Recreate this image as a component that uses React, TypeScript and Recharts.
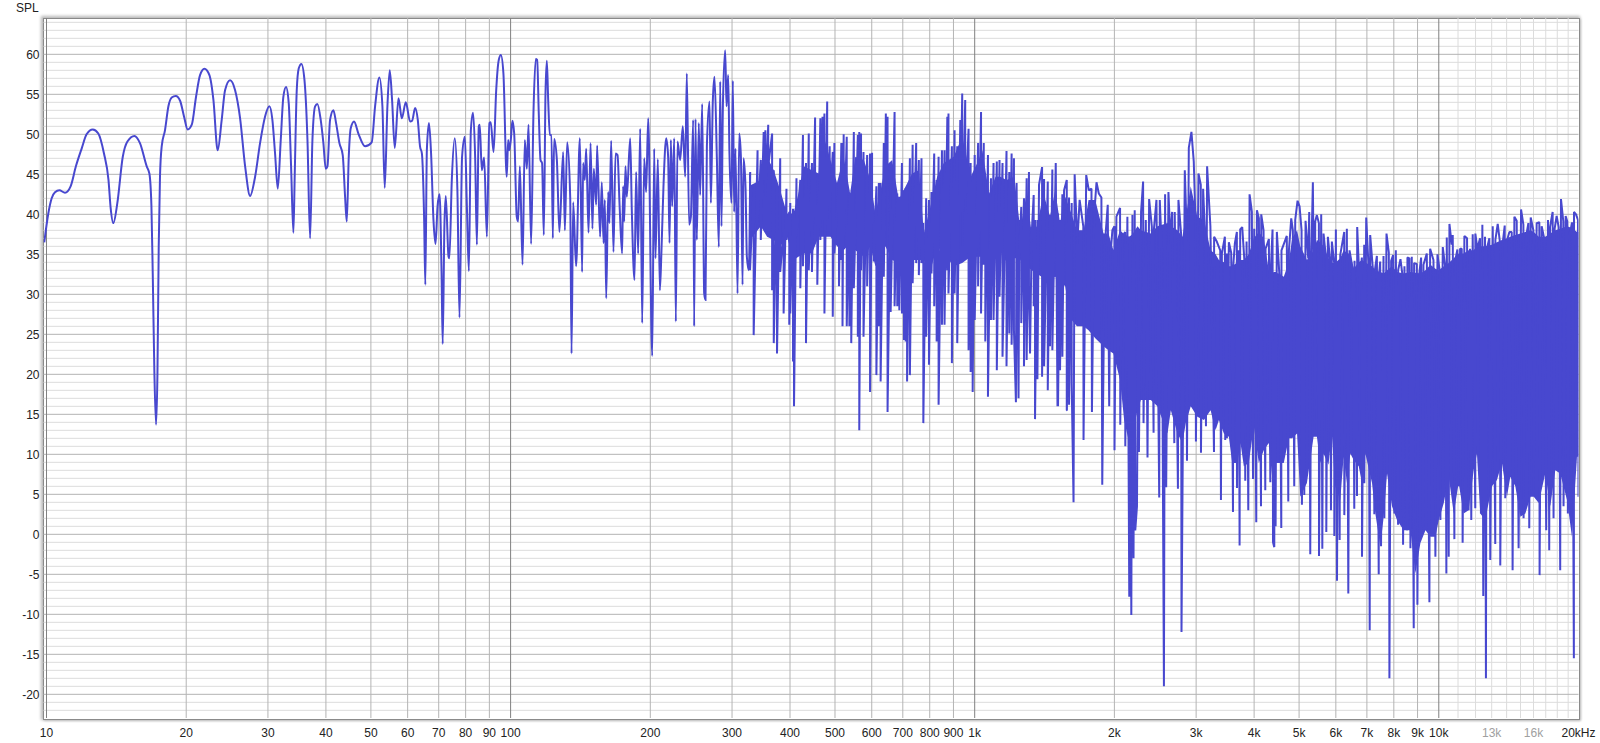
import { Area, CartesianGrid, ComposedChart, Line, XAxis, YAxis } from 'recharts';

const FONT = '"Liberation Sans", Arial, sans-serif';
const CURVE = '#4848cf';

// smooth low end of the response, 10 - 63 Hz
const lowHz = [9.89, 10.09, 10.26, 10.43, 10.66, 10.96, 11.27, 11.57, 11.91, 12.2, 12.58, 12.93, 13.3, 13.6, 13.75, 13.93, 14.21, 14.6, 14.94, 15.47, 15.9, 16.44, 16.66, 16.83, 16.94, 17.08, 17.22, 17.34, 17.45, 17.56, 17.71, 18.0, 18.31, 18.61, 18.99, 19.4, 19.79, 20.15, 20.56, 21.0, 21.42, 21.89, 22.44, 22.89, 23.38, 23.85, 24.25, 24.86, 25.49, 26.13, 26.79, 27.46, 28.15, 28.85, 29.57, 30.22, 30.67, 31.08, 31.5, 31.97, 32.39, 32.82, 33.26, 33.65, 34.04, 34.27, 34.61, 34.96, 35.42, 35.96, 36.5, 36.98, 37.41, 37.91, 38.34, 38.98, 39.5, 39.96, 40.3, 40.83, 41.51, 42.07, 42.77, 43.48, 43.99, 44.36, 44.8, 45.24, 45.99, 46.99, 48.57, 50.2, 51.05, 52.15, 52.94, 53.55, 54.27, 54.9, 55.54, 56.28, 57.33, 58.29, 59.45, 60.74, 61.35, 62.27, 63.1, 63.8];
const lowDb = [36.5, 40.1, 42, 42.75, 43, 42.7, 43.5, 46, 48.25, 50, 50.6, 50.1, 47.6, 44.3, 40.75, 38.9, 41.4, 47.2, 49.1, 49.8, 48.9, 46, 45.1, 41, 32.6, 20.1, 13.7, 20.1, 36, 44.7, 48.5, 50.5, 53.5, 54.6, 54.8, 54.2, 52.2, 50.6, 51.2, 54.7, 57.4, 58.2, 57.4, 54.3, 48, 51.8, 55.5, 56.75, 55.5, 52, 46, 42.3, 44.7, 48.9, 52.2, 53.5, 51.8, 47.6, 43.2, 49.3, 54.7, 55.9, 53.9, 46, 37.7, 45.1, 55.5, 58.25, 58.8, 56.8, 49.3, 37, 49.3, 53.5, 53.8, 51.8, 48.9, 45.7, 46, 51.8, 53, 51.4, 48.9, 47.4, 42.2, 39.1, 47.2, 50.75, 51.6, 50.1, 48.5, 49, 53.5, 57.1, 53.5, 43.3, 53.5, 58, 54.3, 48.3, 54.5, 52, 54, 51.6, 51.7, 53.3, 51.8, 48.5];

// individually readable peaks and dips, 64 - 328 Hz
const sweepHz = [64.4, 65.1, 65.5, 66.0, 66.7, 67.4, 68.2, 68.9, 69.6, 70.3, 71.0, 71.4, 72.0, 72.5, 73.5, 73.8, 74.7, 75.8, 76.8, 77.6, 78.6, 79.7, 80.5, 81.3, 82.1, 83.0, 83.9, 84.6, 85.4, 85.8, 86.7, 87.7, 88.9, 90.0, 90.6, 91.9, 93.1, 94.3, 95.3, 96.5, 98.1, 98.8, 99.3, 100.1, 100.9, 101.8, 103.1, 103.8, 104.7, 106.1, 107.3, 108.4, 109.3, 110.7, 112.0, 113.3, 114.1, 115.0, 116.0, 116.9, 117.9, 118.9, 119.7, 120.5, 121.5, 122.5, 123.3, 124.1, 125.8, 127.4, 129.8, 130.9, 132.4, 134.4, 135.3, 136.4, 138.4, 141.0, 142.6, 143.3, 144.5, 145.5, 147.2, 148.7, 150.1, 151.1, 152.9, 153.6, 155.9, 157.2, 158.6, 159.6, 160.7, 162.3, 163.3, 164.7, 166.6, 168.3, 170.0, 171.7, 173.9, 174.8, 175.7, 176.8, 178.0, 181.0, 182.5, 184.9, 186.4, 188.3, 190.2, 192.1, 194.0, 195.9, 197.9, 201.9, 203.9, 205.2, 207.6, 209.7, 211.4, 213.5, 216.4, 218.5, 220.0, 221.5, 222.9, 225.2, 227.0, 228.9, 231.9, 235.0, 237.8, 239.7, 242.5, 244.6, 247.4, 248.6, 250.3, 251.9, 254.4, 256.1, 258.7, 261.3, 263.0, 264.8, 268.3, 270.1, 272.7, 275.0, 278.2, 281.0, 282.9, 284.7, 286.7, 290.0, 291.9, 294.3, 296.2, 299.2, 301.2, 303.2, 305.2, 308.3, 310.9, 313.5, 316.1, 317.6, 320.8, 322.9, 326.1, 328.3];
const sweepDb = [47.6, 39.7, 31.2, 48, 51.4, 47.6, 39.3, 36.3, 41, 42.5, 32.6, 23.8, 38.5, 42.3, 34.7, 34.5, 44.3, 49.5, 43, 27.1, 47.2, 49.7, 41, 32.9, 50.5, 52.7, 46.8, 36.2, 51, 51.2, 45.5, 47.1, 37.2, 51.4, 51.5, 47.8, 55.5, 59.3, 59.9, 57.6, 44.7, 49.3, 48, 49.3, 51.7, 50.1, 39.7, 39.1, 46, 33.7, 49.3, 45.7, 51.2, 36.3, 52.6, 59.4, 59.3, 52.6, 46.8, 46.4, 37.4, 55.1, 59.2, 54.3, 49.9, 49.9, 37, 49.4, 46.8, 37.8, 47.8, 38, 49, 42.2, 22.6, 41.5, 33.5, 49.5, 32.8, 46.4, 44.3, 48.2, 37.7, 48.9, 38.2, 45.7, 41.2, 48.6, 37.2, 44, 36.4, 41.8, 29.5, 42.8, 38.9, 49.2, 35.3, 47.6, 47.4, 41.2, 35.1, 43.5, 39.1, 46, 42.2, 49.5, 40.3, 31.8, 45.3, 35.1, 50.7, 26.4, 47, 42.8, 52, 22.3, 48.2, 34.5, 46.9, 30.5, 35.5, 43.5, 49.5, 47.2, 36.4, 49.3, 41, 49.5, 26.6, 49.1, 46.8, 51, 44.7, 57.6, 38.7, 39.7, 51.8, 26, 51.9, 36.8, 51.4, 42.4, 53.8, 30.1, 29.3, 48.5, 54.1, 41.4, 54.1, 57.2, 47.2, 35.9, 56.6, 38.5, 53.5, 60.5, 53.5, 57.4, 47.6, 41.4, 56.7, 40.3, 48.2, 30.1, 50.1, 47.2, 31.2, 47, 43.3, 34.7, 33, 45.3];

// dense part: top and bottom of each stroke, 330 - 1130 Hz
const strokeHz = [328, 334, 340.5, 346, 351, 354, 359, 366, 369, 375, 381, 387.5, 393, 398.5, 400.5, 406, 408, 413, 421, 426.5, 433, 439, 446, 453, 458, 465, 470, 474.5, 481, 487, 494.5, 498.5, 510, 516, 519, 522, 530, 537, 542, 549, 560, 564, 569, 576, 586.5, 595, 601, 606, 614, 621.5, 627, 637, 643.5, 649, 659, 672, 681, 688, 697, 704, 710, 715, 725, 735, 748, 758, 768, 775, 786, 797, 807, 818, 828, 836, 850, 861, 873, 878, 893, 905, 917, 931, 940, 954, 970, 980, 990, 1000, 1017, 1032, 1046, 1054, 1068, 1084, 1098, 1116, 1131];
const strokeTop = [45.1, 43.5, 48, 46.8, 50.3, 50.5, 51.2, 50.1, 45.5, 43.5, 47, 38, 43.2, 40.3, 41.4, 40.7, 40.1, 44.5, 44.3, 49.9, 46.4, 50.1, 46.4, 52.1, 41.4, 52, 52.2, 52.6, 54.1, 48.5, 47.8, 48.9, 44.3, 48.9, 48.9, 50, 49.7, 42.6, 42.6, 50.3, 49.9, 50.3, 50.1, 47.8, 47.4, 47.6, 47.7, 38.9, 43.5, 43.9, 43.9, 48.9, 52.6, 52.2, 44.3, 52.8, 42.6, 42.2, 46.4, 43, 43.3, 43.3, 47, 48.7, 48.9, 46.8, 47, 38.9, 42, 41.8, 42.8, 47.6, 44.3, 47.2, 48, 48, 52.2, 52.6, 48.5, 50.5, 48.5, 51.8, 55.1, 54.3, 50.7, 46.4, 44.3, 47.4, 48.9, 52.8, 48.9, 42.6, 47.4, 44.5, 46.4, 46.6, 46.8];
const strokeDip = [33, 24.9, 38.9, 36.8, 44.3, 42.2, 46, 30.5, 23.9, 22.6, 32.8, 27.6, 36.8, 26.2, 27.6, 21.6, 16, 37.2, 30.75, 33.5, 23.9, 33, 32.8, 38.5, 31.2, 36.8, 39.3, 27.6, 39.3, 40.1, 27.2, 35.1, 31, 34.3, 26, 36, 26, 26, 23.9, 30.75, 24.7, 13, 33, 24.7, 31, 17.8, 38.9, 34.1, 19.9, 26, 19.1, 32.2, 43.5, 15.3, 27.8, 28.5, 28.5, 28, 27.6, 24.3, 24.1, 19.1, 19.9, 31.4, 33.9, 32.4, 33.9, 13.9, 24.7, 21.2, 32.6, 28.5, 24.1, 16.2, 26.2, 26.2, 33, 30.1, 21.4, 30.1, 23.9, 40.3, 36, 40.3, 23, 20.3, 17.8, 26.8, 31, 27.6, 33.7, 24.1, 17.2, 26.8, 26.8, 20.5, 29.7];

// upper edge of the noise, 1.1k - 20k
const peakHz = [1148, 1171, 1187, 1201, 1215, 1231, 1247, 1260, 1277, 1294, 1309, 1327, 1340, 1349, 1365, 1376, 1397, 1411, 1437, 1453, 1470, 1495, 1512, 1527, 1545, 1558, 1579, 1597, 1618, 1642, 1664, 1683, 1714, 1739, 1762, 1785, 1809, 1830, 1851, 1875, 1906, 1935, 1960, 1980, 2000, 2020, 2057, 2081, 2109, 2133, 2161, 2187, 2212, 2253, 2283, 2306, 2337, 2376, 2408, 2432, 2464, 2505, 2530, 2572, 2615, 2641, 2663, 2698, 2748, 2784, 2836, 2855, 2893, 2931, 2965, 2990, 3035, 3070, 3106, 3137, 3168, 3220, 3280, 3324, 3381, 3409, 3460, 3494, 3529, 3570, 3606, 3636, 3672, 3703, 3733, 3771, 3809, 3853, 3911, 3956, 4002, 4056, 4096, 4144, 4192, 4234, 4304, 4347, 4383, 4434, 4478, 4537, 4582, 4643, 4704, 4754, 4809, 4848, 4905, 4962, 5012, 5062, 5112, 5163, 5232, 5258, 5310, 5354, 5416, 5461, 5516, 5580, 5645, 5720, 5768, 5835, 5883, 5952, 6001, 6081, 6132, 6255, 6337, 6422, 6529, 6583, 6671, 6749, 6827, 6907, 6976, 7057, 7115, 7210, 7282, 7355, 7428, 7477, 7601, 7715, 7804, 7895, 7973, 8080, 8173, 8268, 8350, 8433, 8559, 8644, 8745, 8847, 8965, 9070, 9160, 9267, 9422, 9579, 9739, 9934, 10066, 10200, 10318, 10404, 10542, 10664, 10717, 10841, 10968, 11114, 11206, 11354, 11505, 11677, 11832, 11989, 12109, 12270, 12413, 12578, 12682, 12852, 13068, 13242, 13396, 13552, 13732, 13869, 14007, 14194, 14359, 14550, 14719, 15040, 15215, 15418, 15596, 15777, 15987, 16252, 16468, 16659, 16853, 17191, 17362, 17592, 17768, 17945, 18125, 18335, 18548, 18764, 18920, 19172, 19364, 19557, 19751, 19948];
const peakDb = [46.4, 47.9, 45.3, 47.6, 47, 43.9, 35.1, 40.9, 42, 44.5, 45.3, 37.6, 42.4, 39.3, 39.3, 43.7, 45.9, 44.4, 44.1, 39.9, 45.6, 46.4, 40.1, 39.3, 42.5, 43, 44.3, 42.1, 41.4, 45, 36.4, 41.8, 38.5, 44.9, 43, 43.2, 39.9, 44, 42.6, 42.1, 36, 41.2, 34.7, 38, 38.5, 39.7, 40.8, 37.2, 37.8, 39.7, 37.2, 39.9, 40.5, 33, 40.3, 44.1, 39.3, 41.9, 38.5, 38, 41.8, 41.8, 35.5, 42.5, 42.8, 36.8, 40.3, 40.3, 41.8, 37.6, 45.5, 40.1, 48.3, 50.3, 46.6, 39.3, 45.1, 43.7, 43.2, 37.2, 46, 38.5, 37.2, 36.6, 35.5, 35.1, 37.2, 35.1, 36.5, 35.2, 33.5, 36.4, 37.8, 35.5, 38.1, 38.4, 34.5, 36.6, 42.5, 40.3, 38.2, 40.5, 39.5, 40, 38, 35.7, 36.9, 33.3, 38.1, 32.8, 37.8, 32.2, 35.5, 36.4, 37.3, 35.5, 39.5, 38, 39.3, 41.7, 41, 38, 34.7, 39.2, 34.5, 40.3, 34.5, 44, 39.1, 39.9, 38.9, 40, 37.6, 34.3, 37.2, 34.1, 36.6, 33.9, 38.1, 33.9, 34.9, 37.8, 38.2, 35.5, 33, 34.2, 38.4, 31.4, 34.6, 36.2, 39.6, 33.5, 37.4, 33.2, 33, 34.8, 32.1, 34.1, 34.8, 37.6, 35.2, 34.2, 34.9, 35.5, 33, 34.4, 32.4, 33.5, 34.6, 34.5, 34.7, 33.9, 33.8, 32.4, 34.6, 33.7, 35.1, 35.7, 34.3, 35, 32.6, 35.9, 33.5, 37.1, 38.8, 36.2, 37.4, 34.1, 35.6, 35.7, 35.7, 37.3, 37, 35.7, 37.5, 37.6, 35.7, 37, 38.7, 37.2, 35.6, 37, 38.5, 36.8, 38.8, 36.4, 36.4, 38.6, 36.6, 37.8, 37.8, 39.7, 39.2, 40.6, 38.7, 37.2, 38.9, 39.6, 38, 38.9, 39, 38.5, 37.1, 39.3, 38.4, 40.3, 38.2, 39.8, 38.4, 41.9, 39.1, 39.8, 39.1, 37.6, 39, 40.3, 40, 39.3];

// lower edge of the noise, 1.1k - 20k
const dipHz = [1148, 1171, 1187, 1201, 1215, 1227, 1243, 1260, 1277, 1294, 1309, 1316, 1340, 1349, 1365, 1397, 1411, 1437, 1453, 1470, 1508, 1512, 1527, 1545, 1579, 1580, 1597, 1618, 1633, 1716, 1789, 1883, 1949, 2001, 2059, 2111, 2153, 2175, 2199, 2218, 2237, 2259, 2311, 2357, 2429, 2498, 2557, 2586, 2692, 2741, 2790, 2867, 2997, 3073, 3150, 3278, 3393, 3466, 3495, 3602, 3674, 3722, 3828, 3886, 3978, 4043, 4139, 4228, 4335, 4393, 4421, 4450, 4577, 4739, 4881, 5071, 5130, 5285, 5410, 5519, 5611, 5723, 5857, 5955, 6035, 6115, 6258, 6383, 6575, 6664, 6832, 6910, 7098, 7263, 7423, 7508, 7633, 7827, 8023, 8171, 8376, 8545, 8687, 8831, 8993, 9249, 9545, 9833, 10080, 10383, 10505, 10803, 11036, 11256, 11593, 11748, 11984, 12325, 12469, 12635, 12910, 13233, 13566, 13907, 14422, 14858, 15230, 15664, 16005, 16488, 17040, 17296, 17671, 18265, 18569, 18972, 19546, 20000];
const dipDb = [22.2, 21, 25.1, 23.7, 25.5, 16.5, 17, 26.4, 21, 21.8, 30.5, 22.6, 28.5, 14.4, 19.4, 19.7, 21, 18, 23.5, 23, 16, 16, 20.5, 22.2, 15.5, 15.5, 16.2, 18.9, 4, 11.8, 15.3, 6.2, 16, 10.5, 13.7, 11, -7.8, -10.1, -3, 0.5, 3.5, 10.3, 13.9, 9.6, 12.7, 4.6, -19, 5.9, 11.4, 5.7, -12.2, 9.2, 11.6, 10.2, 13.5, 10.3, 4.3, 11.8, 12, 2.8, 5.8, -1.4, 6.7, 3, 6.9, 1.5, 3.5, 5.5, 6.5, -1, -1.6, 1, 0.8, 4.1, 6, 3.7, 4.9, -2.5, 12.6, -2.7, -1.8, 0.3, 3, -0.2, -5.8, -0.7, 2.4, -7.4, 3.2, 4.8, -2.8, 6.4, -12, 2.5, -5, -1.5, 2, -18, 2.6, 1.2, -1.3, 0.5, -1.75, -11.75, -8.8, 0.1, -8.5, -2.8, 1.8, -4.9, -2.8, -0.6, 6, -1.05, 3, 1.8, 3.25, 2.6, -7.7, -18, -3.2, -1.2, -3.9, 4.5, -4.5, -1.75, 2, 0.75, 4.9, -5.1, 0.5, -2, 2, -4.5, 3.5, 2.6, -15.5, 4.7];

// solid core of the noise
const coreHz = [328, 346, 357, 369, 381, 394, 407, 417, 428, 446, 461, 473, 489, 505, 522, 539, 553, 577, 596, 611, 627, 642, 664, 686, 703, 733, 758, 777, 803, 830, 858, 901, 940, 980, 1013, 1039, 1074, 1109, 1135, 1171, 1217, 1247, 1264, 1294, 1327, 1361, 1407, 1453, 1491, 1527, 1567, 1606, 1661, 1717, 1759, 1819, 1895, 1942, 1990, 2057, 2099, 2152, 2188, 2243, 2280, 2396, 2476, 2603, 2646, 2735, 2803, 2850, 2921, 3018, 3119, 3223, 3304, 3359, 3443, 3529, 3588, 3678, 3739, 3801, 3896, 3994, 4094, 4197, 4302, 4374, 4447, 4521, 4634, 4751, 4830, 4950, 5029, 5198, 5373, 5463, 5552, 5644, 5786, 5882, 5980, 6133, 6236, 6341, 6447, 6556, 6721, 6832, 6946, 7180, 7299, 7482, 7608, 7735, 7928, 8127, 8400, 8687, 8905, 9128, 9360, 9595, 9833, 9999, 10250, 10505, 10770, 11036, 11312, 11593, 11887, 12083, 12284, 12590, 13017, 13343, 13680, 14025, 14260, 14620, 14990, 15365, 15760, 16020, 16420, 16960, 17390, 17825, 18270, 18890, 19360, 19850, 20000];
const coreLow = [36.8, 38.5, 37.2, 36.8, 36, 37.2, 34.3, 34.7, 35.1, 35.1, 37.2, 37.2, 37.2, 36, 35.5, 36.4, 35.5, 34.7, 36, 33.5, 34.7, 36, 34.3, 33.9, 33.5, 34.3, 34.3, 34.3, 33, 36, 35.1, 33.5, 33.9, 34.7, 34.7, 34.7, 35.1, 35.5, 35.5, 34, 34.5, 34.5, 34, 33.5, 33, 32.6, 32, 32, 32.2, 31.6, 31, 27, 26, 26, 25.5, 24.5, 23.5, 23, 22.6, 19.3, 14.3, 11.4, 12.6, 15.5, 16.8, 16.8, 16, 12.6, 15.5, 12.6, 11.4, 13.9, 16, 14.7, 14.3, 15.5, 13, 14.3, 12.6, 12.2, 8.9, 8.9, 11.4, 8.5, 8.9, 13.5, 8.9, 10.5, 11.4, 7.2, 8.9, 8.9, 8.9, 12, 12, 12.6, 4.7, 6.4, 12.2, 12.2, 8.9, 10.1, 8.7, 12.6, 6, 4.3, 9.7, 6.4, 10.1, 9.3, 8.5, 6.4, 10.1, 6.4, 2.6, -1.5, 2.2, 7.6, 3.5, 1.8, 0.5, 0.5, -4.9, -1.1, 0.5, -0.3, -0.3, 1.8, 3.9, 7.2, 2.6, 6.4, 2.6, 3, 8, 10.1, 2.6, 1.8, 6, 6.8, 8.9, 4.7, 7.2, 6, 2.2, 2.6, 4.7, 4.7, 3.9, 7.6, 3.5, 8, 7.6, 4.3, -0.3, 9.7, 9.7];
const coreHigh = [43.6, 44.3, 47.2, 45.5, 43, 40.1, 40.1, 42.6, 46, 45.5, 45.1, 49.7, 46.8, 43.9, 47.2, 42.6, 47.2, 46.8, 44.3, 40.1, 43, 46, 46.8, 41.8, 43, 45.1, 45.5, 37.6, 41, 44.7, 46.4, 47.2, 49.7, 44.7, 46.4, 48, 42.6, 44.7, 44.7, 44.3, 44.7, 39.3, 39.3, 42.6, 37.6, 38.5, 42.6, 39.7, 43, 38.9, 42.2, 40.5, 38, 38, 41.8, 41.8, 37.6, 37.6, 35.5, 38, 37.5, 37.2, 37.5, 38.5, 38, 37.6, 38.5, 38.9, 38.5, 38, 37.2, 39.7, 43.5, 39.7, 39.3, 35.5, 35, 34.3, 34, 33.5, 33.5, 34, 34.3, 34.3, 35, 37, 37.8, 37, 33, 32.8, 32.7, 32.6, 32.2, 34, 37, 38, 36, 34.3, 35.5, 36.8, 36.5, 36, 34.5, 33.9, 33.9, 34.5, 35.5, 35.2, 35, 33.2, 34, 34.3, 34, 33.5, 33, 32.8, 32.6, 33, 33.5, 32.8, 32.6, 32.8, 32.7, 32.6, 33, 33.7, 33.2, 33, 33.5, 33.9, 34.5, 35.1, 35.1, 35.5, 35.5, 36, 36, 36, 36.2, 36.5, 36.8, 37, 37.2, 37.4, 37.6, 37.8, 38, 37.8, 37.2, 37.2, 37.6, 38, 38.2, 38.5, 38.3, 37.8, 37.8];

const xTicks = [10, 20, 30, 40, 50, 60, 70, 80, 90, 100, 200, 300, 400, 500, 600, 700, 800, 900, 1000, 2000, 3000, 4000, 5000, 6000, 7000, 8000, 9000, 10000, 13000, 16000, 20000];
const xLabels = ['10', '20', '30', '40', '50', '60', '70', '80', '90', '100', '200', '300', '400', '500', '600', '700', '800', '900', '1k', '2k', '3k', '4k', '5k', '6k', '7k', '8k', '9k', '10k', '13k', '16k', '20kHz'];
const yTicks = [-20, -15, -10, -5, 0, 5, 10, 15, 20, 25, 30, 35, 40, 45, 50, 55, 60];

const decadeLines = [10, 100, 1000, 10000];
const freqLines = [20, 30, 40, 50, 60, 70, 80, 90, 200, 300, 400, 500, 600, 700, 800, 900, 2000, 3000, 4000, 5000, 6000, 7000, 8000, 9000];
const fineFreqLines = [11000, 12000, 13000, 14000, 15000, 16000, 17000, 18000, 19000];
const fineDbLines = Array.from({ length: 87 }, (_, i) => i - 22).filter((v) => v % 5 !== 0);

const edge = [
  ...peakHz.map((hz, i) => ({ hz, spl: peakDb[i] })),
  ...dipHz.map((hz, i) => ({ hz, spl: dipDb[i] })),
].sort((a, b) => a.hz - b.hz);

const smoothPart = [
  ...lowHz.map((hz, i) => ({ hz, spl: lowDb[i] })),
  ...sweepHz.map((hz, i) => ({ hz, spl: sweepDb[i] })),
];

const densePart = [
  ...strokeHz.flatMap((hz, i) => [
    { hz, spl: strokeTop[i] },
    { hz, spl: strokeDip[i] },
  ]),
  ...edge,
];

const core = coreHz.map((hz, i) => ({ hz, band: [coreLow[i], coreHigh[i]] }));

function FreqTick({ x, y, payload }: any) {
  const i = xTicks.indexOf(payload.value);
  const faint = payload.value === 13000 || payload.value === 16000;
  return (
    <text x={x} y={y + 17} textAnchor="middle" fontSize={12} fontFamily={FONT} fill={faint ? '#a0a0a0' : '#222'}>
      {xLabels[i]}
    </text>
  );
}

export default function App() {
  return (
    <div style={{ position: 'fixed', left: 0, top: 0, width: 1600, height: 743, background: '#fff', overflow: 'hidden' }}>
      <div
        style={{
          position: 'absolute',
          left: 43,
          top: 17.5,
          width: 1535,
          height: 700,
          border: '1px solid #8a8a8a',
          boxShadow: '-1px -1px 3px 1px #b8b8b8, 1px 1px 2px #c8c8c8',
        }}
      />
      <div style={{ position: 'absolute', left: 16, top: 1, fontSize: 12, fontFamily: FONT, color: '#222' }}>SPL</div>
      <ComposedChart
        width={1600}
        height={743}
        margin={{ left: 0, right: 21.5, top: 18, bottom: 0 }}
        style={{ position: 'absolute', left: 0, top: 0 }}
      >
        <CartesianGrid stroke="#dcdcdc" horizontalValues={fineDbLines} verticalValues={fineFreqLines} />
        <CartesianGrid stroke="#b4b4b4" horizontalValues={yTicks} verticalValues={freqLines} />
        <CartesianGrid stroke="#808080" horizontal={false} verticalValues={decadeLines} />
        <XAxis
          dataKey="hz"
          type="number"
          scale="log"
          domain={[9.852, 20000]}
          allowDataOverflow
          ticks={xTicks}
          interval={0}
          height={25}
          axisLine={false}
          tickLine={false}
          tickSize={0}
          tick={<FreqTick />}
        />
        <YAxis
          type="number"
          domain={[-22.96, 64.54]}
          allowDataOverflow
          ticks={yTicks}
          interval={0}
          width={43.5}
          axisLine={false}
          tickLine={false}
          tickSize={0}
          tickMargin={4}
          tick={{ fontSize: 12, fontFamily: FONT, fill: '#222' }}
        />
        <Area
          data={core}
          dataKey="band"
          type="linear"
          stroke="none"
          fill={CURVE}
          fillOpacity={1}
          dot={false}
          activeDot={false}
          isAnimationActive={false}
        />
        <Line
          data={smoothPart}
          dataKey="spl"
          type="monotone"
          stroke={CURVE}
          strokeWidth={2}
          dot={false}
          activeDot={false}
          isAnimationActive={false}
        />
        <Line
          data={densePart}
          dataKey="spl"
          type="linear"
          stroke={CURVE}
          strokeWidth={2}
          strokeLinejoin="bevel"
          dot={false}
          activeDot={false}
          isAnimationActive={false}
        />
      </ComposedChart>
    </div>
  );
}
